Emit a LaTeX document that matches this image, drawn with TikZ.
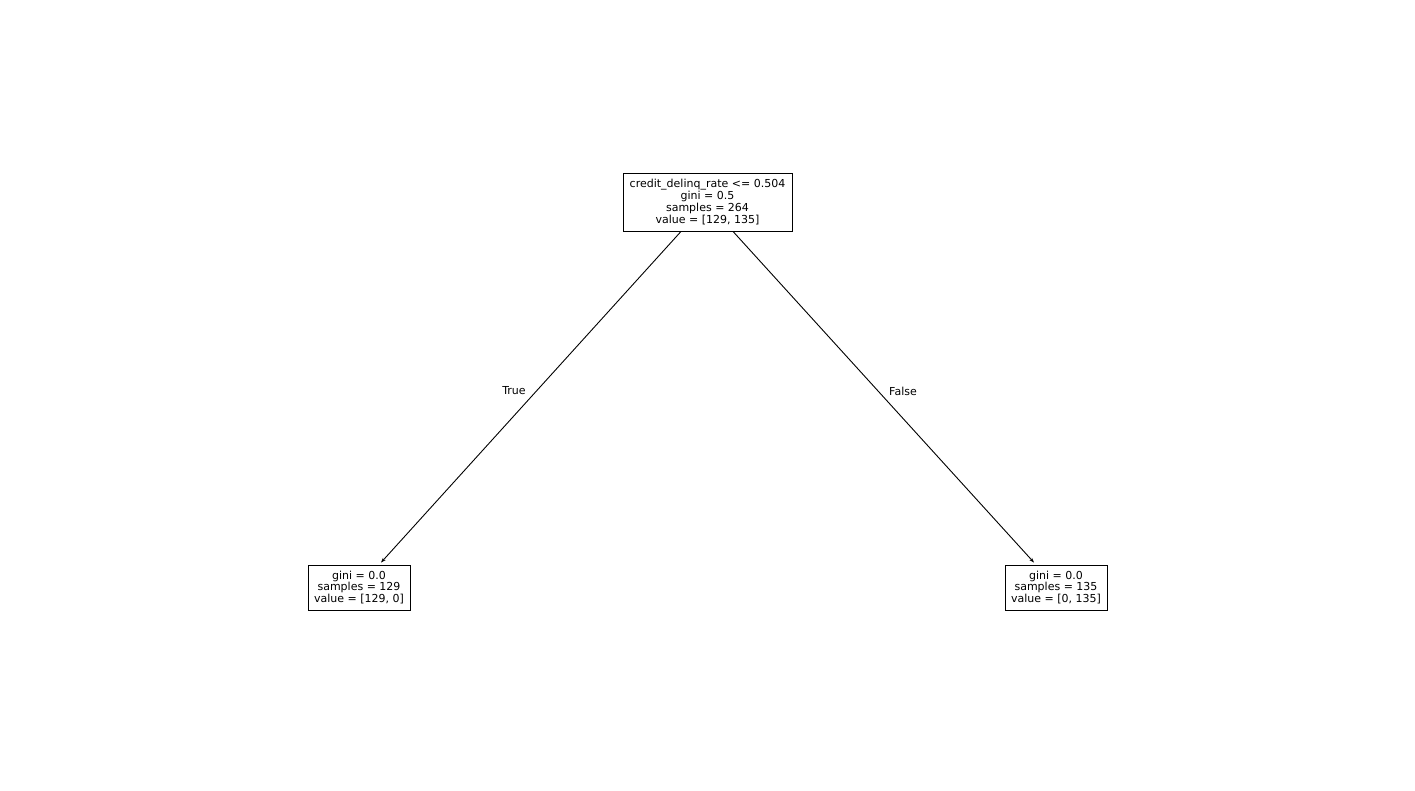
\documentclass[tikz,border=0pt]{standalone}
\usepackage{fontspec}
\setmainfont{DejaVu Sans}
\usetikzlibrary{calc,arrows.meta}
\begin{document}
\begin{tikzpicture}[x=1pt,y=-1pt,
  box/.style={draw,line width=0.9pt,align=center,inner sep=0pt,font=\fontsize{11}{11.7}\selectfont},
  lbl/.style={font=\fontsize{11}{11.7}\selectfont},
  edge/.style={line width=0.9pt,-{Stealth[length=5pt,width=3.5pt]}}]
\path[use as bounding box] (0,0) rectangle (1415,790);
\node[box,minimum width=169pt,minimum height=58pt] (root) at (707.5,202)
  {credit\_delinq\_rate <= 0.504\\gini = 0.5\\samples = 264\\value = [129, 135]};
\node[box,minimum width=102pt,minimum height=45pt] (L) at (359,587.5)
  {gini = 0.0\\samples = 129\\value = [129, 0]};
\node[box,minimum width=102pt,minimum height=45pt] (R) at (1056,587.5)
  {gini = 0.0\\samples = 135\\value = [0, 135]};
\draw[edge] ($(root.south)+(-26.5,0)$) -- ($(L.north)+(22,-2)$);
\draw[edge] ($(root.south)+(25.5,0)$) -- ($(R.north)+(-22,-2)$);
\node[lbl] (t) at (514,391) {True};
\node[lbl] (f) at (903,391) {False};
\end{tikzpicture}
\end{document}
